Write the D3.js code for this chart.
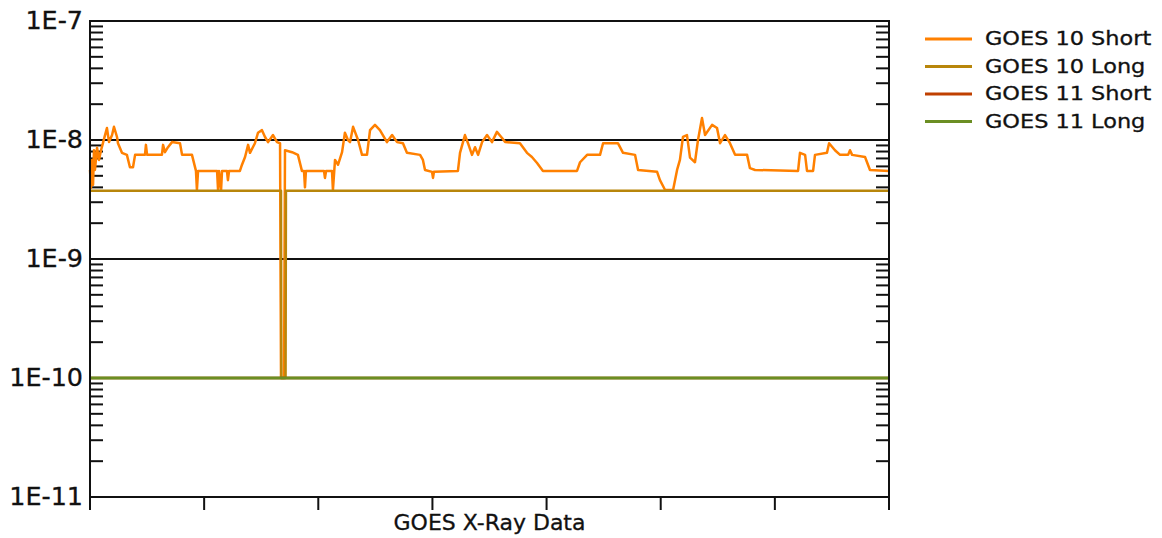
<!DOCTYPE html>
<html>
<head>
<meta charset="utf-8">
<script src="https://cdn.jsdelivr.net/npm/d3@7"></script>
<style>
  body { margin: 0; background: #fff; }
</style>
</head>
<body>
<div id="chart-area"></div>
<script>
const svgWidth = 1162;
const svgHeight = 538;

// series names and palette (EarthTones)
const seriesNames = ["GOES 10 Short", "GOES 10 Long", "GOES 11 Short", "GOES 11 Long"];
const seriesColors = ["#FF8000", "#B8860B", "#C04000", "#6B8E23"];

// time in minutes, flux in W/m^2
const goes10Short = [
  [0,5.6e-9],[0.5,3.95e-9],[1.1,6.8e-9],[1.6,4.2e-9],[2.1,8.2e-9],[2.6,5.6e-9],[3.7,8.6e-9],[4.7,6.8e-9],
  [5.8,8.2e-9],[6.8,9.4e-9],[7.9,1.10e-8],[8.9,1.26e-8],[10.0,9.6e-9],[11.6,1.10e-8],[12.6,1.29e-8],
  [14.2,1.06e-8],[14.7,9.4e-9],[16.8,7.8e-9],[19.4,7.5e-9],[21.0,5.9e-9],[22.6,5.9e-9],[23.7,7.5e-9],
  [28.9,7.5e-9],[29.4,9.1e-9],[30.0,7.5e-9],[37.8,7.5e-9],[38.4,9.1e-9],[39.4,7.9e-9],[41.0,8.7e-9],
  [43.1,9.6e-9],[47.3,9.4e-9],[48.4,7.5e-9],[53.6,7.5e-9],[55.7,5.5e-9],[56.2,3.8e-9],[56.8,5.5e-9],
  [66.8,5.5e-9],[67.3,3.8e-9],[67.8,5.5e-9],[68.9,3.8e-9],[69.4,5.5e-9],[72.0,5.5e-9],[72.5,4.6e-9],
  [73.1,5.5e-9],[78.8,5.5e-9],[79.9,6.2e-9],[81.5,7.2e-9],[83.1,9.1e-9],[84.1,7.8e-9],[86.7,9.4e-9],
  [88.3,1.15e-8],[90.4,1.21e-8],[92.0,1.06e-8],[93.6,9.6e-9],[96.2,1.10e-8],[98.3,9.6e-9],[99.9,9.4e-9],
  [100.4,1e-10],[102.0,1e-10],[102.5,8.2e-9],[106.2,7.9e-9],[109.3,7.5e-9],[111.4,5.5e-9],[112.5,5.5e-9],
  [113.0,4.0e-9],[113.5,5.5e-9],[123.0,5.5e-9],[123.5,4.8e-9],[124.1,5.5e-9],[127.2,5.5e-9],[127.7,3.8e-9],
  [128.8,6.8e-9],[130.4,6.2e-9],[132.5,7.9e-9],[134.0,1.15e-8],[135.6,1.0e-8],[136.7,9.6e-9],[138.3,1.29e-8],
  [140.9,1.0e-8],[143.0,7.5e-9],[145.6,7.5e-9],[147.2,1.21e-8],[149.8,1.34e-8],[152.4,1.21e-8],[156.1,9.6e-9],
  [158.8,1.10e-8],[161.4,9.6e-9],[164.5,9.4e-9],[166.6,7.8e-9],[173.5,7.5e-9],[175.0,6.8e-9],[176.1,5.6e-9],
  [179.8,5.4e-9],[180.3,4.8e-9],[180.8,5.4e-9],[193.4,5.5e-9],[194.5,7.8e-9],[197.1,1.10e-8],[198.7,9.4e-9],
  [200.8,7.5e-9],[202.4,8.7e-9],[204.0,7.5e-9],[206.1,9.6e-9],[208.7,1.10e-8],[211.3,9.6e-9],[213.9,1.17e-8],
  [216.6,1.04e-8],[218.2,9.6e-9],[226.0,9.4e-9],[229.7,7.8e-9],[232.3,7.2e-9],[235.0,6.4e-9],[238.1,5.5e-9],
  [256.0,5.5e-9],[257.6,6.5e-9],[261.3,7.5e-9],[268.1,7.5e-9],[269.7,9.4e-9],[277.5,9.4e-9],[280.2,7.8e-9],
  [286.5,7.5e-9],[288.1,5.6e-9],[298.1,5.4e-9],[299.6,4.6e-9],[302.3,3.8e-9],[306.5,3.8e-9],[308.6,5.6e-9],
  [310.1,6.8e-9],[311.7,1.06e-8],[313.8,1.10e-8],[315.4,7.1e-9],[318.0,6.5e-9],[319.6,1.0e-8],[321.7,1.53e-8],
  [323.3,1.10e-8],[327.0,1.34e-8],[329.6,1.26e-8],[331.2,9.4e-9],[333.8,1.10e-8],[336.4,9.4e-9],[339.1,7.5e-9],
  [345.4,7.5e-9],[346.9,5.8e-9],[349.6,5.6e-9],[372.2,5.5e-9],[373.2,7.8e-9],[375.9,7.5e-9],[376.9,5.5e-9],
  [380.1,5.5e-9],[381.1,7.5e-9],[387.4,7.8e-9],[388.5,9.4e-9],[391.6,8.2e-9],[394.3,7.5e-9],[398.5,7.5e-9],
  [399.5,8.2e-9],[400.6,7.5e-9],[407.4,7.2e-9],[410.0,5.6e-9],[420,5.5e-9]
];
const goes10Long = [[0,3.75e-9],[100.4,3.75e-9],[100.6,1e-10],[102.8,1e-10],[103.0,3.75e-9],[420,3.75e-9]];
const goes11Short = [[0,1e-10],[420,1e-10]];
const goes11Long = [[0,1e-10],[420,1e-10]];

const yTickValues = [1e-11, 1e-10, 1e-9, 1e-8, 1e-7];
const yTickLabels = ["1E-11", "1E-10", "1E-9", "1E-8", "1E-7"];
const xTickValues = [0, 60, 120, 180, 240, 300, 360, 420];
const xTitle = "GOES X-Ray Data";

const plot = { left: 90, right: 889, top: 21, bottom: 497 };

const svg = d3.select("#chart-area")
  .append("svg")
    .attr("width", svgWidth)
    .attr("height", svgHeight);

const x = d3.scaleLinear().domain([0, 420]).range([plot.left, plot.right]);
const y = d3.scaleLog().domain([1e-11, 1e-7]).range([plot.bottom, plot.top]);

// minor ticks, inward on both sides
const minorTicks = [];
for (let e = -11; e < -7; e++) {
  for (let k = 2; k <= 9; k++) minorTicks.push(k * Math.pow(10, e));
}
const grid = svg.append("g").attr("stroke", "#111").attr("stroke-width", 2);
grid.selectAll(".minL").data(minorTicks).enter().append("line")
  .attr("x1", plot.left).attr("x2", plot.left + 13)
  .attr("y1", d => y(d)).attr("y2", d => y(d));
grid.selectAll(".minR").data(minorTicks).enter().append("line")
  .attr("x1", plot.right - 13).attr("x2", plot.right)
  .attr("y1", d => y(d)).attr("y2", d => y(d));
grid.selectAll(".major").data(yTickValues.slice(1, 4)).enter().append("line")
  .attr("x1", plot.left).attr("x2", plot.right)
  .attr("y1", d => y(d)).attr("y2", d => y(d));

// x ticks (downward)
grid.selectAll(".xt").data(xTickValues).enter().append("line")
  .attr("x1", d => x(d)).attr("x2", d => x(d))
  .attr("y1", plot.bottom).attr("y2", plot.bottom + 13);

// series
const line = d3.line().x(d => x(d[0])).y(d => y(d[1]));
const allSeries = [goes10Short, goes10Long, goes11Short, goes11Long];
svg.append("g").selectAll("path").data(allSeries).enter().append("path")
  .attr("d", line)
  .attr("fill", "none")
  .attr("stroke", (d, i) => seriesColors[i])
  .attr("stroke-width", (d, i) => i === 3 ? 3 : 2.5)
  .attr("stroke-linejoin", "round");

// frame
svg.append("rect")
  .attr("x", plot.left).attr("y", plot.top)
  .attr("width", plot.right - plot.left).attr("height", plot.bottom - plot.top)
  .attr("fill", "none").attr("stroke", "#111").attr("stroke-width", 2);

// y labels
svg.append("g").selectAll("text").data(yTickValues).enter().append("text")
  .text((d, i) => yTickLabels[i])
  .attr("transform", d => `translate(83,${y(d)}) scale(1.06,1)`)
  .attr("text-anchor", "end")
  .attr("dominant-baseline", "central")
  .attr("font-family", "DejaVu Sans")
  .attr("font-size", 24)
  .attr("fill", "#111")
  .attr("stroke", "#111")
  .attr("stroke-width", 0.3);

// x title
svg.append("text")
  .text(xTitle)
  .attr("x", (plot.left + plot.right) / 2)
  .attr("y", 530)
  .attr("text-anchor", "middle")
  .attr("font-family", "DejaVu Sans")
  .attr("font-size", 22)
  .attr("fill", "#111")
  .attr("stroke", "#111")
  .attr("stroke-width", 0.3);

// legend
const legend = svg.append("g").selectAll("g").data(seriesNames).enter().append("g")
  .attr("transform", (d, i) => `translate(925,${39 + i * 27.5})`);
legend.append("line")
  .attr("x1", 0).attr("x2", 47)
  .attr("stroke", (d, i) => seriesColors[i])
  .attr("stroke-width", 3);
legend.append("text")
  .text(d => d)
  .attr("transform", "translate(60,0) scale(1.18,1)")
  .attr("dominant-baseline", "central")
  .attr("font-family", "DejaVu Sans")
  .attr("font-size", 19)
  .attr("fill", "#111")
  .attr("stroke", "#111")
  .attr("stroke-width", 0.3);
</script>
</body>
</html>
